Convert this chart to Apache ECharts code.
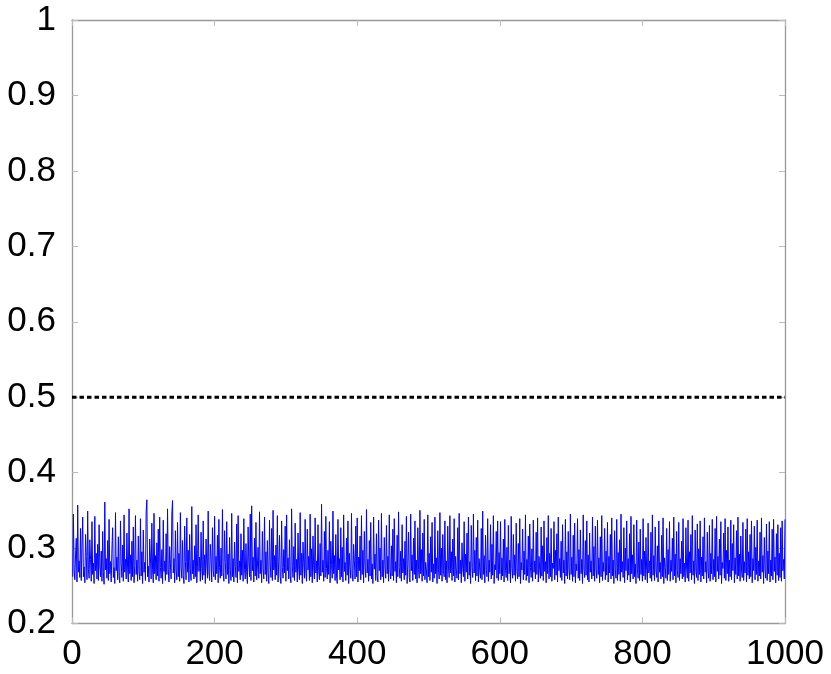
<!DOCTYPE html>
<html><head><meta charset="utf-8">
<script src="https://cdn.jsdelivr.net/npm/echarts@6/dist/echarts.min.js"></script>
<style>html,body{margin:0;padding:0;background:#fff}#c{width:831px;height:674px}</style>
</head><body><div id="c"></div>
<script>
const xTicks = [0, 200, 400, 600, 800, 1000];
const yTicks = [0.2, 0.3, 0.4, 0.5, 0.6, 0.7, 0.8, 0.9, 1];
const threshold = 0.5;
const signal = [
.262,.345,.271,.258,.292,.313,.255,.357,.268,.283,.261,.326,.257,.301,.341,.262,.275,.254,.318,.289,.258,.349,.272,.260,.311,.285,.256,.335,.265,.280,.253,.342,.270,.293,.259,.305,.257,.331,.276,.262,.296,.256,.322,.268,.252,.361,.271,.286,.260,.310,
.257,.338,.266,.282,.255,.299,.327,.261,.274,.253,.347,.270,.288,.258,.315,.263,.254,.336,.279,.261,.304,.256,.344,.268,.285,.259,.320,.272,.255,.352,.266,.291,.257,.309,.262,.328,.254,.277,.343,.265,.284,.256,.316,.270,.258,.339,.263,.295,.253,.324,
.268,.281,.257,.348,.364,.262,.276,.255,.312,.287,.259,.333,.271,.254,.346,.266,.290,.258,.307,.263,.325,.256,.341,.274,.260,.298,.253,.337,.269,.283,.257,.319,.265,.352,.272,.255,.302,.280,.259,.345,.363,.267,.286,.254,.323,.271,.258,.334,.262,.293,
.256,.347,.275,.260,.310,.264,.253,.329,.282,.258,.340,.268,.297,.255,.318,.271,.257,.355,.266,.284,.259,.303,.262,.331,.254,.276,.344,.269,.288,.256,.321,.273,.258,.336,.264,.291,.253,.312,.279,.260,.349,.267,.257,.305,.285,.255,.327,.270,.262,.342,
.258,.289,.266,.317,.254,.338,.274,.260,.300,.263,.351,.268,.256,.323,.281,.259,.335,.265,.292,.253,.314,.271,.257,.346,.262,.286,.255,.308,.276,.261,.332,.254,.343,.269,.283,.258,.319,.264,.297,.256,.339,.272,.259,.306,.267,.253,.328,.280,.262,.345,
.257,.356,.270,.288,.255,.313,.263,.334,.258,.276,.301,.260,.348,.266,.284,.254,.322,.273,.259,.341,.265,.295,.256,.310,.268,.253,.337,.279,.261,.326,.257,.350,.271,.290,.258,.304,.264,.343,.255,.282,.317,.262,.253,.336,.274,.260,.298,.267,.329,.256,
.344,.270,.287,.259,.311,.263,.254,.352,.276,.261,.302,.257,.333,.268,.285,.255,.320,.272,.258,.347,.264,.293,.253,.308,.280,.260,.338,.266,.256,.325,.271,.289,.257,.345,.262,.299,.254,.316,.274,.259,.340,.267,.283,.255,.331,.270,.258,.306,.263,.358,
.268,.284,.256,.322,.261,.342,.273,.259,.297,.265,.335,.254,.309,.278,.260,.349,.266,.290,.257,.318,.263,.253,.338,.271,.286,.258,.327,.262,.301,.255,.344,.269,.281,.257,.313,.264,.336,.253,.293,.274,.260,.346,.267,.256,.305,.283,.259,.329,.262,.340,
.255,.288,.270,.316,.258,.343,.265,.297,.254,.322,.276,.261,.351,.267,.285,.256,.310,.263,.334,.259,.279,.253,.341,.272,.292,.257,.319,.264,.255,.337,.270,.300,.258,.346,.262,.284,.254,.314,.275,.260,.330,.266,.289,.256,.344,.271,.259,.303,.263,.325,
.257,.339,.269,.282,.254,.317,.262,.348,.274,.260,.296,.256,.331,.267,.286,.258,.309,.264,.342,.253,.278,.321,.261,.255,.345,.270,.291,.257,.313,.265,.336,.259,.284,.254,.327,.272,.260,.350,.266,.298,.256,.320,.263,.338,.258,.281,.271,.254,.344,.262,
.293,.257,.315,.268,.334,.255,.279,.260,.341,.266,.287,.253,.323,.272,.259,.347,.264,.300,.256,.318,.270,.262,.336,.258,.283,.254,.329,.275,.261,.343,.267,.295,.257,.312,.263,.339,.255,.289,.271,.260,.327,.258,.346,.266,.284,.254,.307,.273,.262,.335,
.256,.292,.268,.320,.259,.341,.264,.282,.253,.330,.274,.261,.345,.267,.297,.257,.314,.263,.337,.255,.286,.270,.260,.326,.258,.349,.265,.290,.254,.317,.272,.262,.339,.256,.284,.268,.331,.259,.305,.264,.343,.253,.278,.271,.322,.260,.336,.257,.294,.266,
.335,.258,.287,.263,.312,.255,.338,.270,.261,.301,.257,.330,.266,.284,.254,.342,.273,.260,.318,.264,.291,.256,.333,.269,.259,.306,.262,.339,.253,.281,.271,.325,.258,.296,.265,.344,.257,.285,.263,.316,.254,.332,.274,.261,.299,.256,.337,.268,.283,.259,
.321,.265,.340,.255,.289,.272,.260,.328,.263,.303,.257,.336,.269,.282,.254,.314,.266,.343,.259,.293,.262,.326,.256,.280,.273,.335,.258,.297,.264,.319,.255,.341,.270,.286,.261,.309,.257,.331,.267,.284,.253,.338,.263,.295,.259,.322,.271,.258,.345,.265,
.288,.256,.317,.262,.333,.254,.279,.270,.339,.260,.298,.257,.324,.266,.285,.253,.344,.272,.261,.310,.264,.336,.258,.291,.255,.320,.268,.283,.259,.341,.263,.302,.256,.329,.271,.260,.337,.265,.287,.254,.315,.262,.343,.257,.281,.269,.326,.258,.296,.264,
.334,.255,.289,.267,.318,.259,.340,.263,.284,.253,.323,.271,.260,.338,.257,.294,.265,.311,.256,.345,.268,.282,.261,.327,.254,.300,.270,.336,.258,.286,.264,.319,.255,.342,.266,.291,.259,.331,.262,.279,.253,.337,.272,.260,.308,.257,.325,.265,.285,.256,
.339,.263,.296,.258,.314,.270,.254,.333,.267,.283,.260,.321,.256,.344,.264,.290,.257,.328,.271,.261,.303,.255,.336,.268,.281,.259,.317,.262,.340,.253,.287,.274,.260,.326,.257,.298,.265,.335,.256,.284,.269,.313,.258,.341,.263,.292,.254,.322,.270,.261,
.334,.257,.286,.266,.309,.259,.339,.262,.280,.255,.327,.272,.260,.337,.256,.295,.267,.318,.258,.343,.264,.283,.253,.324,.270,.261,.332,.257,.299,.265,.336,.255,.288,.263,.315,.259,.340,.268,.282,.254,.321,.271,.260,.330,.256,.293,.266,.338,.258,.285,
.262,.326,.255,.342,.269,.289,.259,.312,.264,.335,.253,.281,.273,.320,.260,.339,.257,.297,.266,.328,.256,.284,.262,.337,.258,.306,.270,.331,.254,.287,.265,.323,.259,.341,.263,.292,.256,.316,.271,.261,.334,.257,.282,.267,.325,.255,.339,.264,.295,.259,
.318,.262,.336,.254,.286,.270,.329,.258,.301,.265,.337,.256,.283,.263,.321,.259,.340,.268,.290,.253,.314,.272,.260,.332,.257,.296,.266,.335,.255,.284,.263,.325,.258,.338,.269,.288,.254,.319,.264,.331,.257,.293,.261,.327,.256,.336,.270,.285,.259,.338
];
const pts = signal.map((v, i) => [i + 1, v]);
const font = "'Liberation Sans', Arial, sans-serif";
const axisCol = '#999';
const chart = echarts.init(document.getElementById('c'), null, {renderer: 'canvas'});
const baseX = {type:'value', min:0, max:1000, interval:200,
  axisLine:{show:true,onZero:false,lineStyle:{color:axisCol,width:1.3}},
  axisTick:{show:true,inside:true,length:6,lineStyle:{color:'#bbb',width:1}},
  splitLine:{show:false}};
const baseY = {type:'value', min:0.2, max:1, interval:0.1,
  axisLine:{show:true,onZero:false,lineStyle:{color:axisCol,width:1.3}},
  axisTick:{show:true,inside:true,length:6,lineStyle:{color:'#bbb',width:1}},
  splitLine:{show:false}};
chart.setOption({
  animation:false,
  grid:{left:72,right:46,top:20,bottom:50.5,containLabel:false,outerBoundsMode:'none'},
  xAxis:[
    Object.assign({}, baseX, {position:'bottom',
      axisLabel:{show:true,margin:13,color:'#000',fontSize:35,fontFamily:font,
        formatter:v=>xTicks.includes(v)?String(v):''}}),
    Object.assign({}, baseX, {position:'top', axisLabel:{show:false}})
  ],
  yAxis:[
    Object.assign({}, baseY, {position:'left',
      axisLabel:{show:true,margin:16,color:'#000',fontSize:35,fontFamily:font,
        formatter:v=>{const t=yTicks.find(y=>Math.abs(y-v)<1e-9);return t===undefined?'':String(t);}}}),
    Object.assign({}, baseY, {position:'right', axisLabel:{show:false}})
  ],
  series:[
    {type:'line', data:pts, xAxisIndex:0, yAxisIndex:0, showSymbol:false, symbol:'none',
      lineStyle:{color:'#0000ff',width:1}, z:2},
    {type:'line', data:[[0,threshold],[1000,threshold]], xAxisIndex:0, yAxisIndex:0, showSymbol:false, symbol:'none',
      lineStyle:{color:'#000',width:3,type:[4.5,3]}, z:3}
  ]
});
</script></body></html>
